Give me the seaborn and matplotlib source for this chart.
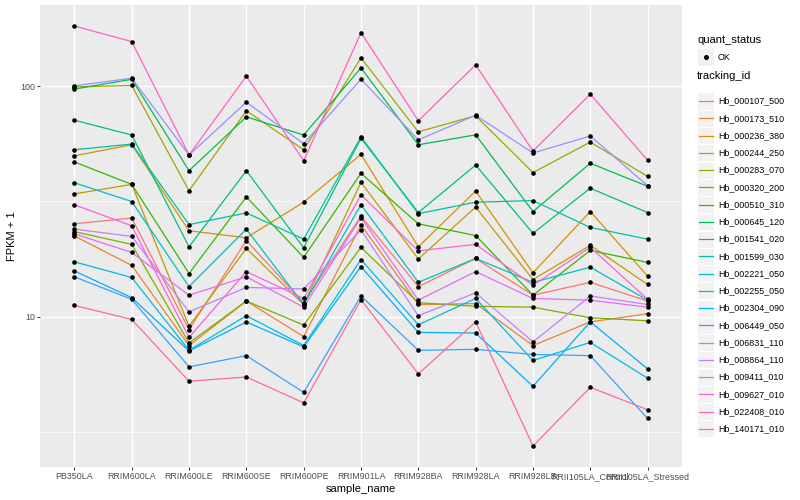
import numpy as np
import pandas as pd
import matplotlib
matplotlib.use("Agg")
import matplotlib.pyplot as plt
import seaborn as sns
from matplotlib.patches import Rectangle
from matplotlib.lines import Line2D

# ---------------- data ----------------
samples = ["PB350LA", "RRIM600LA", "RRIM600LE", "RRIM600SE", "RRIM600PE",
           "RRIM901LA", "RRIM928BA", "RRIM928LA", "RRIM928LB",
           "RRII105LA_Control", "RRII105LA_Stressed"]

tracking_ids = ["Hb_000107_500", "Hb_000173_510", "Hb_000236_380", "Hb_000244_250",
                "Hb_000283_070", "Hb_000320_200", "Hb_000510_310", "Hb_000645_120",
                "Hb_001541_020", "Hb_001599_030", "Hb_002221_050", "Hb_002255_050",
                "Hb_002304_090", "Hb_006449_050", "Hb_006831_110", "Hb_008864_110",
                "Hb_009411_010", "Hb_009627_010", "Hb_022408_010", "Hb_140171_010"]

Hb_000107_500 = [25.3, 26.8, 8.8, 21.4, 11.5, 27.3, 13.5, 17.9, 12.4, 14.1, 11.7]
Hb_000173_510 = [22.4, 16.7, 7.5, 11.7, 8.2, 25.0, 11.3, 11.4, 7.5, 9.5, 10.3]
Hb_000236_380 = [49.9, 55.7, 23.6, 22.0, 31.4, 50.6, 20.1, 35.1, 15.5, 28.6, 15.0]
Hb_000244_250 = [34.1, 37.5, 9.1, 19.8, 11.3, 38.3, 17.8, 29.9, 14.5, 20.4, 13.8]
Hb_000283_070 = [99.3, 100.7, 35.2, 78.2, 53.0, 132.6, 63.4, 74.4, 42.2, 57.2, 40.6]
Hb_000320_200 = [23.4, 20.6, 7.7, 11.7, 9.2, 20.0, 11.5, 11.1, 11.0, 9.9, 9.6]
Hb_000510_310 = [46.9, 37.5, 15.4, 33.1, 18.1, 41.9, 25.3, 22.5, 12.4, 19.4, 17.2]
Hb_000645_120 = [97.1, 107.2, 43.0, 73.6, 61.4, 120.0, 55.7, 61.5, 28.6, 46.3, 36.8]
Hb_001541_020 = [71.2, 61.4, 20.1, 43.0, 19.9, 59.4, 28.3, 45.5, 23.0, 36.1, 28.3]
Hb_001599_030 = [53.0, 56.1, 25.1, 28.2, 21.7, 60.3, 28.0, 31.4, 31.9, 24.4, 21.7]
Hb_002221_050 = [38.1, 31.6, 13.5, 24.0, 11.3, 30.6, 14.1, 17.9, 14.1, 16.4, 11.8]
Hb_002255_050 = [17.3, 14.8, 7.15, 10.1, 7.5, 17.7, 9.23, 12.0, 6.46, 7.74, 5.41]
Hb_002304_090 = [15.8, 12.1, 7.1, 9.49, 7.4, 16.5, 8.55, 8.50, 4.99, 9.5, 5.94]
Hb_006449_050 = [14.9, 11.9, 6.06, 6.78, 4.70, 12.3, 7.15, 7.22, 6.86, 6.78, 3.62]
Hb_006831_110 = [100.3, 108.3, 50.3, 85.2, 56.3, 107.2, 58.5, 74.8, 51.3, 60.8, 37.0]
Hb_008864_110 = [24.0, 22.3, 10.5, 13.4, 13.2, 23.8, 10.1, 12.7, 7.77, 12.3, 11.3]
Hb_009411_010 = [22.9, 19.0, 12.4, 14.9, 11.0, 26.9, 11.8, 15.7, 12.0, 11.8, 11.0]
Hb_009627_010 = [30.6, 24.8, 8.14, 15.7, 12.0, 33.8, 19.3, 20.6, 13.7, 20.0, 11.9]
Hb_022408_010 = [182.4, 156.1, 50.3, 110.5, 47.5, 170.8, 70.8, 123.7, 52.3, 92.3, 47.7]
Hb_140171_010 = [11.2, 9.73, 5.25, 5.48, 4.23, 11.85, 5.65, 9.5, 2.75, 4.94, 3.95]

series = [Hb_000107_500, Hb_000173_510, Hb_000236_380, Hb_000244_250, Hb_000283_070,
          Hb_000320_200, Hb_000510_310, Hb_000645_120, Hb_001541_020, Hb_001599_030,
          Hb_002221_050, Hb_002255_050, Hb_002304_090, Hb_006449_050, Hb_006831_110,
          Hb_008864_110, Hb_009411_010, Hb_009627_010, Hb_022408_010, Hb_140171_010]

quant_status = ["OK"]
y_tick_values = [10, 100]
y_tick_labels = ["10", "100"]

rows = []
for tid, vals in zip(tracking_ids, series):
    for s, v in zip(samples, vals):
        rows.append((s, tid, v, "OK"))
df = pd.DataFrame(rows, columns=["sample_name", "tracking_id", "fpkm", "quant_status"])


# ---------------- ggplot hue palette ----------------
def hcl_hex(h, c=100.0, l=65.0):
    Xn, Yn, Zn = 95.047, 100.0, 108.883
    hr = np.deg2rad(h)
    U, V = c * np.cos(hr), c * np.sin(hr)
    Y = Yn * ((l + 16) / 116) ** 3 if l > 8 else Yn * l / 903.3
    den = Xn + 15 * Yn + 3 * Zn
    un, vn = 4 * Xn / den, 9 * Yn / den
    u = U / (13 * l) + un
    v = V / (13 * l) + vn
    X = 9.0 * Y * u / (4 * v)
    Z = -X / 3 - 5 * Y + 3 * Y / v
    X, Y, Z = X / 100, Y / 100, Z / 100
    r = 3.240479 * X - 1.537150 * Y - 0.498535 * Z
    g = -0.969256 * X + 1.875992 * Y + 0.041556 * Z
    b = 0.055648 * X - 0.204043 * Y + 1.057311 * Z
    out = []
    for t in (r, g, b):
        t = 12.92 * t if t <= 0.0031308 else 1.055 * (t ** (1 / 2.4)) - 0.055
        out.append(min(max(t, 0), 1))
    return matplotlib.colors.to_hex(out)

n = len(tracking_ids)
hues = [15 + 360 * i / n for i in range(n)]
palette = [hcl_hex(h) for h in hues]
pal_map = dict(zip(tracking_ids, palette))

# ---------------- figure ----------------
W, H = 800, 500
fig = plt.figure(figsize=(8, 5), dpi=100)
pl, pr, pt, pb = 40, 682, 5, 467
ax = fig.add_axes([pl / W, 1 - pb / H, (pr - pl) / W, (pb - pt) / H])
ax.set_facecolor("#EBEBEB")
ax.set_yscale("log")

FONT = "Liberation Sans"

sns.lineplot(data=df, x="sample_name", y="fpkm", hue="tracking_id",
             hue_order=tracking_ids, palette=pal_map, sort=False,
             estimator=None, legend=False, linewidth=0.9, ax=ax, zorder=2)
sns.scatterplot(data=df, x="sample_name", y="fpkm", color="black", s=11,
                linewidth=0, legend=False, ax=ax, zorder=3)

ax.set_yticks(y_tick_values)
ax.set_yticklabels(y_tick_labels)
ax.set_yticks([10 ** 0.5, 10 ** 1.5], minor=True)
ax.yaxis.set_minor_formatter(matplotlib.ticker.NullFormatter())
ax.set_xticks(range(len(samples)))
ax.set_xticklabels(samples)

# limits like ggplot (5% expansion in log space, 0.6 for discrete) - set last
lv = np.log10(df["fpkm"].to_numpy())
rng = lv.max() - lv.min()
ax.set_ylim(10 ** (lv.min() - 0.05 * rng), 10 ** (lv.max() + 0.05 * rng))
ax.set_xlim(-0.6, len(samples) - 1 + 0.6)

ax.grid(which="major", color="white", linewidth=1.0)
ax.grid(which="minor", axis="y", color="white", linewidth=0.5)
ax.set_axisbelow(True)
for sp in ax.spines.values():
    sp.set_visible(False)
ax.tick_params(which="major", length=2.2, width=0.7, color="#333333",
               labelcolor="#4D4D4D", labelsize=6.4, pad=1.5)
ax.tick_params(which="minor", length=0)
for lab in ax.get_xticklabels() + ax.get_yticklabels():
    lab.set_fontfamily(FONT)

ax.set_xlabel("sample_name", fontsize=8, fontfamily=FONT, labelpad=2)
ax.set_ylabel("FPKM + 1", fontsize=8, fontfamily=FONT, labelpad=2)

# ---------------- legends (ggplot style) ----------------
def fx(x):
    return x / W

def fy(y):
    return 1 - y / H

kx, kw = 697, 17
fig.text(fx(697), fy(40), "quant_status", fontsize=8, fontfamily=FONT,
         va="center", ha="left")
fig.add_artist(Rectangle((fx(kx), fy(57 + kw / 2)), kw / W, kw / H,
                         transform=fig.transFigure, facecolor="#F2F2F2",
                         edgecolor="white", linewidth=0.8))
fig.add_artist(Line2D([fx(kx + kw / 2)], [fy(57)], marker="o", markersize=2.6,
                      color="black", linestyle="none", transform=fig.transFigure))
fig.text(fx(718), fy(57), quant_status[0], fontsize=6.4, fontfamily=FONT,
         va="center", ha="left")

fig.text(fx(697), fy(76), "tracking_id", fontsize=8, fontfamily=FONT,
         va="center", ha="left")
y0, dy = 101.0, 17.26
for i, (tid, col) in enumerate(zip(tracking_ids, palette)):
    yc = y0 + i * dy
    fig.add_artist(Rectangle((fx(kx), fy(yc + kw / 2)), kw / W, kw / H,
                             transform=fig.transFigure, facecolor="#F2F2F2",
                             edgecolor="white", linewidth=0.8))
    fig.add_artist(Line2D([fx(kx + 1.5), fx(kx + kw - 1.5)], [fy(yc), fy(yc)],
                          color=col, linewidth=0.9, transform=fig.transFigure))
    fig.text(fx(718), fy(yc), tid, fontsize=6.4, fontfamily=FONT,
             va="center", ha="left")

fig.savefig("out.png", dpi=100)
